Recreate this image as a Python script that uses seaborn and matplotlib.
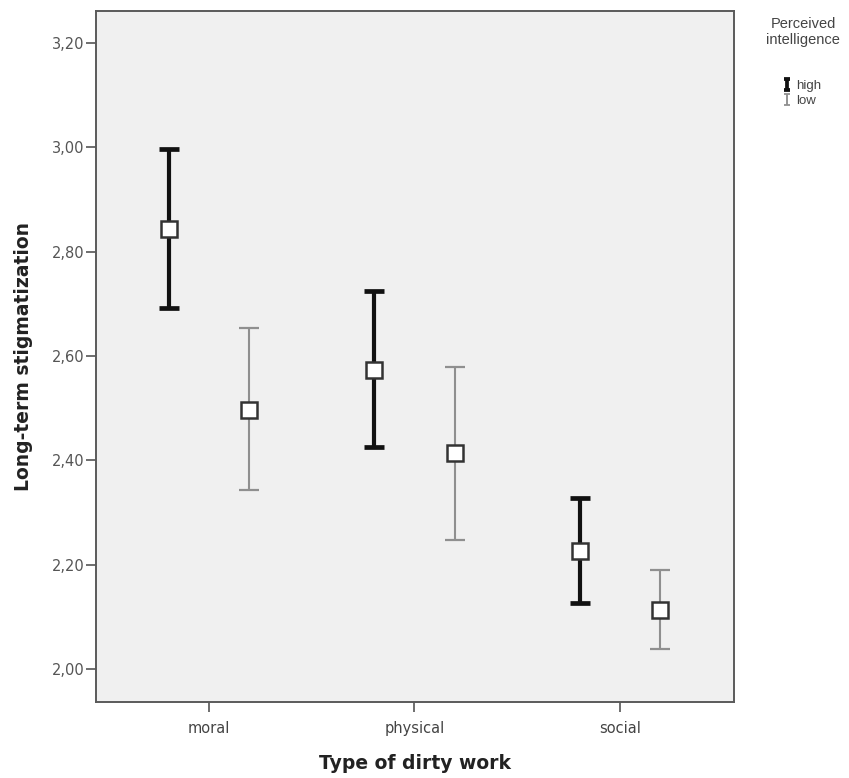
import matplotlib
matplotlib.use("Agg")
import matplotlib.pyplot as plt
import numpy as np
import pandas as pd
import seaborn as sns
from matplotlib.container import ErrorbarContainer
from matplotlib.legend_handler import HandlerErrorbar

# values
CATEGORIES = ["moral", "physical", "social"]
GROUPS = ["high", "low"]
HIGH_MEAN = [2.843, 2.573, 2.226]
HIGH_LOWER = [2.692, 2.426, 2.127]
HIGH_UPPER = [2.997, 2.725, 2.328]
LOW_MEAN = [2.497, 2.414, 2.113]
LOW_LOWER = [2.343, 2.247, 2.038]
LOW_UPPER = [2.654, 2.579, 2.190]
Y_TICKS = [2.00, 2.20, 2.40, 2.60, 2.80, 3.00, 3.20]

DODGE = 0.39
GROUP_STYLE = {
    "high": dict(color="#111111", lw=3.0, capthick=3.4),
    "low": dict(color="#8f8f8f", lw=1.5, capthick=1.6),
}

sns.set_style("ticks", {"axes.facecolor": "#f0f0f0"})
plt.rcParams["font.family"] = ["DejaVu Sans"]

df = pd.DataFrame({
    "work": CATEGORIES * 2,
    "intelligence": ["high"] * 3 + ["low"] * 3,
    "mean": HIGH_MEAN + LOW_MEAN,
    "lower": HIGH_LOWER + LOW_LOWER,
    "upper": HIGH_UPPER + LOW_UPPER,
})

fig = plt.figure(figsize=(8.49, 7.78), dpi=100)
ax = fig.add_axes([0.113, 0.0977, 0.7515, 0.8882])

# error bars first so the square markers sit on top
offsets = dict(zip(GROUPS, np.linspace(0, DODGE, len(GROUPS)) - DODGE / 2))
proxies = []
for grp in GROUPS:
    sub = df[df["intelligence"] == grp]
    xpos = np.arange(len(CATEGORIES)) + offsets[grp]
    yerr = [sub["mean"] - sub["lower"], sub["upper"] - sub["mean"]]
    st = GROUP_STYLE[grp]
    ax.errorbar(xpos, sub["mean"], yerr=yerr, fmt="none", ecolor=st["color"],
                elinewidth=st["lw"], capsize=7, capthick=st["capthick"],
                zorder=2)
    # small invisible copy only used for the legend icon
    proxy = ax.errorbar([np.nan], [np.nan], yerr=[[0.0], [0.0]], fmt="none",
                        ecolor=st["color"], elinewidth=st["lw"] * 0.9,
                        capsize=2.5, capthick=st["capthick"] * 0.8, label=grp)
    proxies.append(proxy)

sns.pointplot(
    data=df, x="work", y="mean", hue="intelligence", order=CATEGORIES,
    hue_order=GROUPS, dodge=DODGE, errorbar=None, linestyle="none",
    markers="s", palette=["#333333", "#333333"], markersize=11.5,
    markeredgewidth=1.8, markerfacecolor="white", legend=False, zorder=3, ax=ax,
)

ax.set_xlim(-0.55, 2.555)
ax.set_ylim(1.937, 3.261)
ax.set_yticks(Y_TICKS)
ax.set_yticklabels([f"{v:.2f}".replace(".", ",") for v in Y_TICKS])

for side in ["top", "right", "left", "bottom"]:
    ax.spines[side].set_visible(True)
    ax.spines[side].set_color("#5a5a5a")
    ax.spines[side].set_linewidth(1.4)
ax.tick_params(axis="y", length=7, width=1.2, color="#555555",
               labelsize=10.5, labelcolor="#555555", pad=1)
ax.tick_params(axis="x", length=7, width=1.2, color="#555555",
               labelsize=10.5, labelcolor="#444444", pad=7)

ax.set_xlabel("Type of dirty work", fontsize=13.5, fontweight="bold",
              color="#222222", labelpad=13)
ax.set_ylabel("Long-term stigmatization", fontsize=13.5, fontweight="bold",
              color="#222222", labelpad=14)

leg = fig.legend(proxies, GROUPS, title="Perceived\nintelligence\n\n",
                 loc="upper center", bbox_to_anchor=(0.946, 0.993),
                 frameon=False, prop={"family": "Liberation Sans", "size": 9.5},
                 title_fontproperties={"family": "Liberation Sans", "size": 10.5},
                 handlelength=0.4, handletextpad=0.5, labelspacing=0.15,
                 handler_map={ErrorbarContainer: HandlerErrorbar(yerr_size=0.42)})
leg.get_title().set_color("#444444")
leg.get_title().set_multialignment("center")
leg.get_title().set_linespacing(1.15)
for t in leg.get_texts():
    t.set_color("#444444")

fig.savefig("out.png", dpi=100, facecolor="white")
